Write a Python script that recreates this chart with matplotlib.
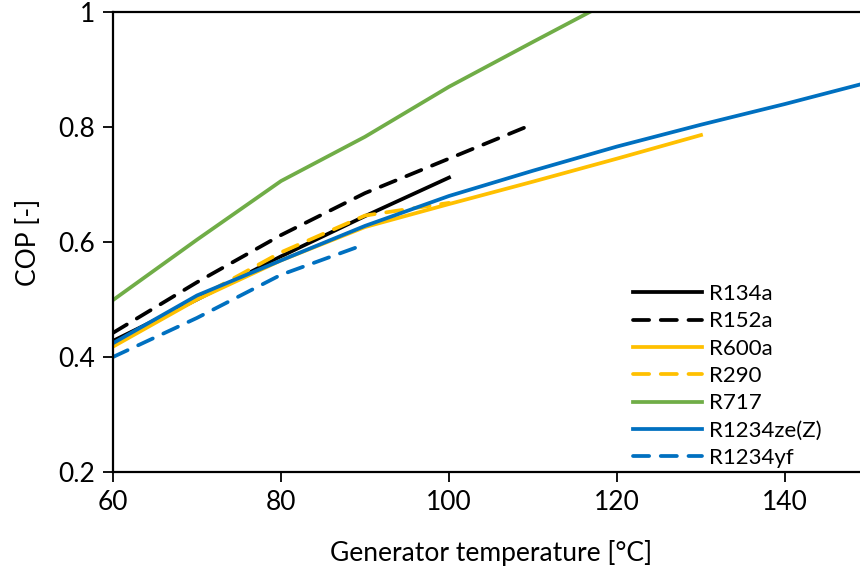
import matplotlib.pyplot as plt

plt.rcParams['font.family'] = ['Lato', 'DejaVu Sans']

# generator temperature [°C] and COP [-]
t_r134a = [60, 70, 80, 90, 100]
cop_r134a = [0.428, 0.500, 0.575, 0.645, 0.712]

t_r152a = [60, 70, 80, 90, 100, 110]
cop_r152a = [0.442, 0.530, 0.612, 0.685, 0.745, 0.805]

t_r600a = [60, 70, 80, 90, 100, 110, 120, 130]
cop_r600a = [0.418, 0.500, 0.568, 0.626, 0.666, 0.705, 0.745, 0.786]

t_r290 = [60, 70, 80, 90, 100]
cop_r290 = [0.420, 0.502, 0.582, 0.646, 0.668]

t_r717 = [60, 70, 80, 90, 100, 110, 120]
cop_r717 = [0.499, 0.604, 0.706, 0.783, 0.870, 0.948, 1.025]

t_r1234ze = [60, 70, 80, 90, 100, 110, 120, 130, 140, 150]
cop_r1234ze = [0.424, 0.507, 0.568, 0.628, 0.680, 0.724, 0.766, 0.804, 0.840, 0.878]

t_r1234yf = [60, 70, 80, 90]
cop_r1234yf = [0.400, 0.468, 0.543, 0.596]

black = '#000000'
yellow = '#FFC000'
green = '#70AD47'
blue = '#0070C0'

fig = plt.figure(figsize=(8.6, 5.73), dpi=100)
# right spine sits just past the picture edge, as in the original crop
ax = fig.add_axes([113 / 860, 1 - 472 / 573, 756 / 860, 460 / 573])

lw = 2.7
dash = dict(linestyle=(0, (4.3, 3.1)), dash_capstyle='round')
ax.plot(t_r134a, cop_r134a, color=black, lw=lw, label='R134a')
ax.plot(t_r152a, cop_r152a, color=black, lw=lw, label='R152a', **dash)
ax.plot(t_r600a, cop_r600a, color=yellow, lw=lw, label='R600a')
ax.plot(t_r290, cop_r290, color=yellow, lw=lw, label='R290', **dash)
ax.plot(t_r717, cop_r717, color=green, lw=lw, label='R717')
ax.plot(t_r1234ze, cop_r1234ze, color=blue, lw=lw, label='R1234ze(Z)')
ax.plot(t_r1234yf, cop_r1234yf, color=blue, lw=lw, label='R1234yf', **dash)

ax.set_xlim(60, 150)
ax.set_ylim(0.2, 1.0)
ax.set_xticks([60, 80, 100, 120, 140])
ax.set_yticks([0.2, 0.4, 0.6, 0.8, 1.0])
ax.set_yticklabels(['0.2', '0.4', '0.6', '0.8', '1'])
for s in ax.spines.values():
    s.set_linewidth(1.6)
ax.tick_params(direction='out', length=7, width=1.3, labelsize=19, pad=6)

ax.set_xlabel('Generator temperature [°C]', fontsize=19, labelpad=18)
ax.set_ylabel('COP [-]', fontsize=19, labelpad=12)

ax.legend(loc='upper left', bbox_to_anchor=(633 / 860, 1 - 284 / 573),
          bbox_transform=fig.transFigure, frameon=False, fontsize=16,
          handlelength=3.1, handletextpad=0.3, labelspacing=0.33,
          borderpad=0, borderaxespad=0)

fig.savefig('out.png', dpi=100)
